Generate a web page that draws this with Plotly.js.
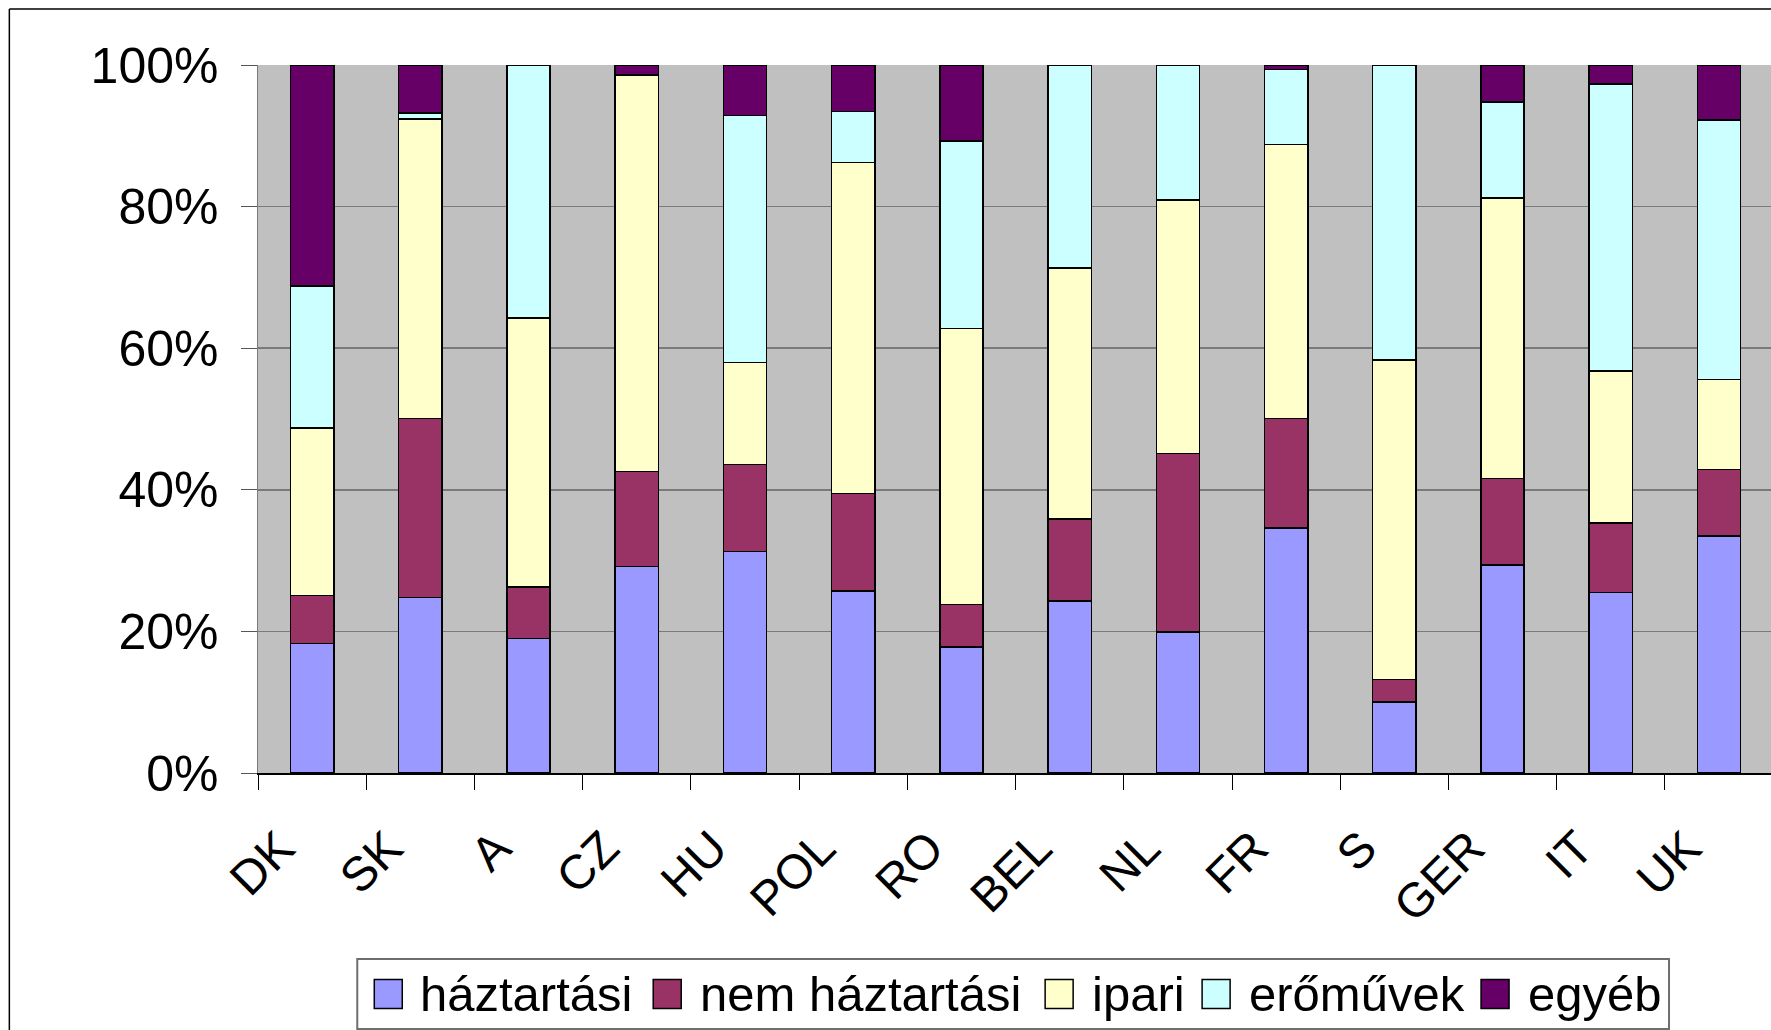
<!DOCTYPE html>
<html>
<head>
<meta charset="utf-8">
<script src="https://cdn.plot.ly/plotly-3.0.1.min.js"></script>
<style>html,body{margin:0;padding:0;background:#fff;}#chart{width:1771px;height:1030px;}</style>
</head>
<body>
<div id="chart"></div>
<script>
const countries = ["DK","SK","A","CZ","HU","POL","RO","BEL","NL","FR","S","GER","IT","UK"];
const haztartasi     = [18.3, 24.8, 19.0, 29.2, 31.3, 25.7, 17.8, 24.3, 19.9, 34.6, 10.0, 29.4, 25.5, 33.5];
const nemHaztartasi  = [ 6.8, 25.3,  7.3, 13.4, 12.3, 13.8,  6.0, 11.6, 25.2, 15.5,  3.2, 12.2,  9.8,  9.4];
const ipari          = [23.6, 42.3, 38.0, 56.0, 14.4, 46.7, 39.0, 35.4, 35.8, 38.7, 45.1, 39.6, 21.5, 12.7];
const eromuvek       = [20.1,  0.8, 35.7,  0.0, 34.9,  7.2, 26.5, 28.7, 19.1, 10.6, 41.7, 13.6, 40.5, 36.6];
const egyeb          = [31.2,  6.8,  0.0,  1.4,  7.1,  6.6, 10.7,  0.0,  0.0,  0.6,  0.0,  5.2,  2.7,  7.8];
const seriesNames = ["háztartási","nem háztartási","ipari","erőművek","egyéb"];
const yTicks = [0,20,40,60,80,100];

const colors = ["#9999FF","#993366","#FFFFCC","#CCFFFF","#660066"];
const seriesValues = [haztartasi, nemHaztartasi, ipari, eromuvek, egyeb];
const data = seriesValues.map((vals,i)=>({
  type:"bar", x:countries, y:vals, name:seriesNames[i],
  marker:{color:colors[i], line:{color:"#000", width:1.5}},
  hoverinfo:"none", showlegend:false
}));

const font = "Liberation Sans, Arial, sans-serif";
// plot area in px
const L=257.7, R=1771, T=65, B=773;
const px = x => (x-L)/(R-L), py = y => (B-y)/(B-T);

// custom legend (pixel layout)
const legBox = {x0:357, x1:1669, y0:959, y1:1029};
const legSquareX = [374, 653, 1045, 1202, 1481];
const legTextX   = [418, 698, 1090, 1247, 1526];
const sq = 28, legCy = 994;

const shapes = [
  {type:"line", xref:"paper", yref:"paper", x0:px(9), x1:px(9), y0:py(1035), y1:py(9), line:{color:"#000", width:1.5}},
  {type:"line", xref:"paper", yref:"paper", x0:px(9), x1:px(1780), y0:py(9), y1:py(9), line:{color:"#000", width:1.5}},
  {type:"rect", xref:"paper", yref:"paper", x0:px(legBox.x0), x1:px(legBox.x1), y0:py(legBox.y1), y1:py(legBox.y0),
   line:{color:"#6e6e6e", width:2}, fillcolor:"#fff"}
];
const annotations = [];
seriesNames.forEach((n,i)=>{
  shapes.push({type:"rect", xref:"paper", yref:"paper",
    x0:px(legSquareX[i]), x1:px(legSquareX[i]+sq), y0:py(legCy+sq/2+0.5), y1:py(legCy-sq/2-0.5),
    line:{color:"#000", width:1.5}, fillcolor:colors[i]});
  annotations.push({xref:"paper", yref:"paper", x:px(legTextX[i]), y:py(legCy), xanchor:"left", yanchor:"middle",
    text:n, showarrow:false, font:{family:font, size:49, color:"#000"}});
});

const layout = {
  width:1771, height:1030,
  margin:{l:L, r:0, t:T, b:1030-B, pad:0},
  paper_bgcolor:"#fff", plot_bgcolor:"#C0C0C0",
  barmode:"stack", bargap:0.60,
  showlegend:false,
  xaxis:{type:"category", range:[-0.5,13.5-(R-1773.6)/-108.1*0+0.0-0.02], tickson:"boundaries", ticks:"outside", ticklen:15,
    tickcolor:"#000", tickwidth:1, tickangle:-45, tickfont:{family:font,size:48,color:"#000"},
    ticklabelstandoff:26, ticklabelshift:-32,
    showline:true, linecolor:"#000", linewidth:1.5, showgrid:false, fixedrange:true},
  yaxis:{range:[0,100], tickvals:yTicks, ticktext:yTicks.map(v=>v+"%"), ticks:"outside", ticklen:16,
    tickcolor:"#555", tickfont:{family:font,size:50,color:"#000"}, ticklabelstandoff:12,
    showgrid:true, gridcolor:"#7a7a7a", gridwidth:1.5, zeroline:false,
    showline:true, linecolor:"#7a7a7a", linewidth:1.5, fixedrange:true},
  shapes:shapes,
  annotations:annotations
};
Plotly.newPlot("chart", data, layout, {displayModeBar:false, staticPlot:true});
</script>
</body>
</html>
